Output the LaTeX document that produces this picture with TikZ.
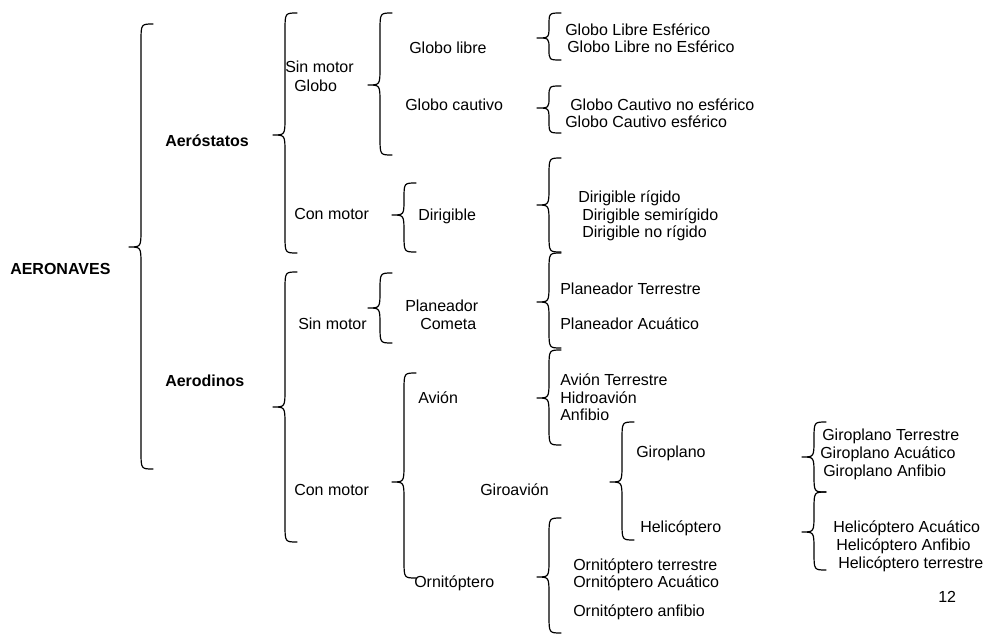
\documentclass[tikz,border=0pt]{standalone}
\usepackage{fontspec}
\setmainfont{Liberation Sans}

\tikzset{
	llave/.style={line width=0.9pt, line cap=round, line join=round},
	texto/.style={anchor=base west, inner sep=0pt},
	grupo/.style={texto, font=\fontsize{12pt}{14pt}\selectfont\bfseries}
}

% curly brace: tip x, top y, tip y, bottom y
\newcommand{\llave}[4]{%
	\pgfmathsetmacro\ra{min(18,(#3-#2)/2)}%
	\pgfmathsetmacro\rb{min(18,(#4-#3)/2)}%
	\draw[llave] ({#1+24},{#2}) .. controls ({#1+12},{#2}) .. ({#1+12},{#2+\ra})
		-- ({#1+12},{#3-\ra}) .. controls ({#1+12},{#3}) .. ({#1},{#3})
		.. controls ({#1+12},{#3}) .. ({#1+12},{#3+\rb})
		-- ({#1+12},{#4-\rb}) .. controls ({#1+12},{#4}) .. ({#1+24},{#4});}

\begin{document}
\begin{tikzpicture}[x=0.75pt, y=-0.75pt, every node/.style={font=\fontsize{12pt}{14pt}\selectfont}]
	\useasboundingbox (0,0) rectangle (984,635);

	% braces
	\llave{129}{24}{247}{469}
	\llave{273}{13}{135}{253}
	\llave{273}{272}{407}{542}
	\llave{368}{13}{85}{155}
	\llave{537}{13}{38}{60}
	\llave{537}{86}{108}{133}
	\llave{392}{183}{215}{252}
	\llave{537}{158}{205}{252}
	\llave{368}{273}{308}{343}
	\llave{537}{253}{302}{348}
	\llave{392}{373}{482}{578}
	\llave{537}{350}{398}{445}
	\llave{610}{422}{482}{540}
	\llave{537}{518}{577}{633}
	\llave{802}{422}{457}{492}
	\llave{802}{492}{532}{570}

	% first levels
	\node[grupo] (aeronaves) at (10,274) {AERONAVES};
	\node[grupo] (aerostatos) at (165,146) {Aeróstatos};
	\node[grupo] (aerodinos) at (165,386) {Aerodinos};

	% aerostatos
	\node[texto] (sinmotorA) at (285,73) {Sin motor};
	\node[texto] (globo) at (294,91) {Globo};
	\node[texto] (conmotorA) at (294,219) {Con motor};
	\node[texto] (globolibre) at (409,54) {Globo libre};
	\node[texto] (globocautivo) at (405,110) {Globo cautivo};
	\node[texto] (libreesf) at (565,36) {Globo Libre Esférico};
	\node[texto] (librenoesf) at (567,53) {Globo Libre no Esférico};
	\node[texto] (cautivonoesf) at (570,110) {Globo Cautivo no esférico};
	\node[texto] (cautivoesf) at (565,127) {Globo Cautivo esférico};
	\node[texto] (dirigible) at (418,220) {Dirigible};
	\node[texto] (dirrigido) at (578,202) {Dirigible rígido};
	\node[texto] (dirsemi) at (582,220) {Dirigible semirígido};
	\node[texto] (dirno) at (582,237) {Dirigible no rígido};

	% aerodinos
	\node[texto] (sinmotorB) at (298,329) {Sin motor};
	\node[texto] (planeador) at (405,311) {Planeador};
	\node[texto] (cometa) at (420,329) {Cometa};
	\node[texto] (plterrestre) at (560,294) {Planeador Terrestre};
	\node[texto] (placuatico) at (560,329) {Planeador Acuático};
	\node[texto] (conmotorB) at (294,495) {Con motor};
	\node[texto] (avion) at (418,403) {Avión};
	\node[texto] (avterrestre) at (560,385) {Avión Terrestre};
	\node[texto] (hidroavion) at (560,403) {Hidroavión};
	\node[texto] (anfibio) at (560,420) {Anfibio};
	\node[texto] (giroavion) at (480,495) {Giroavión};
	\node[texto] (giroplano) at (636,457) {Giroplano};
	\node[texto] (helicoptero) at (640,532) {Helicóptero};
	\node[texto] (giterrestre) at (822,440) {Giroplano Terrestre};
	\node[texto] (giacuatico) at (820,458) {Giroplano Acuático};
	\node[texto] (gianfibio) at (823,476) {Giroplano Anfibio};
	\node[texto] (heacuatico) at (833,532) {Helicóptero Acuático};
	\node[texto] (heanfibio) at (836,550) {Helicóptero Anfibio};
	\node[texto] (heterrestre) at (838,568) {Helicóptero terrestre};
	\node[texto] (ornitoptero) at (414,587) {Ornitóptero};
	\node[texto] (orterrestre) at (573,570) {Ornitóptero terrestre};
	\node[texto] (oracuatico) at (573,587) {Ornitóptero Acuático};
	\node[texto] (oranfibio) at (573,616) {Ornitóptero anfibio};

	\node[texto] (pagina) at (938,602) {12};
\end{tikzpicture}
\end{document}
